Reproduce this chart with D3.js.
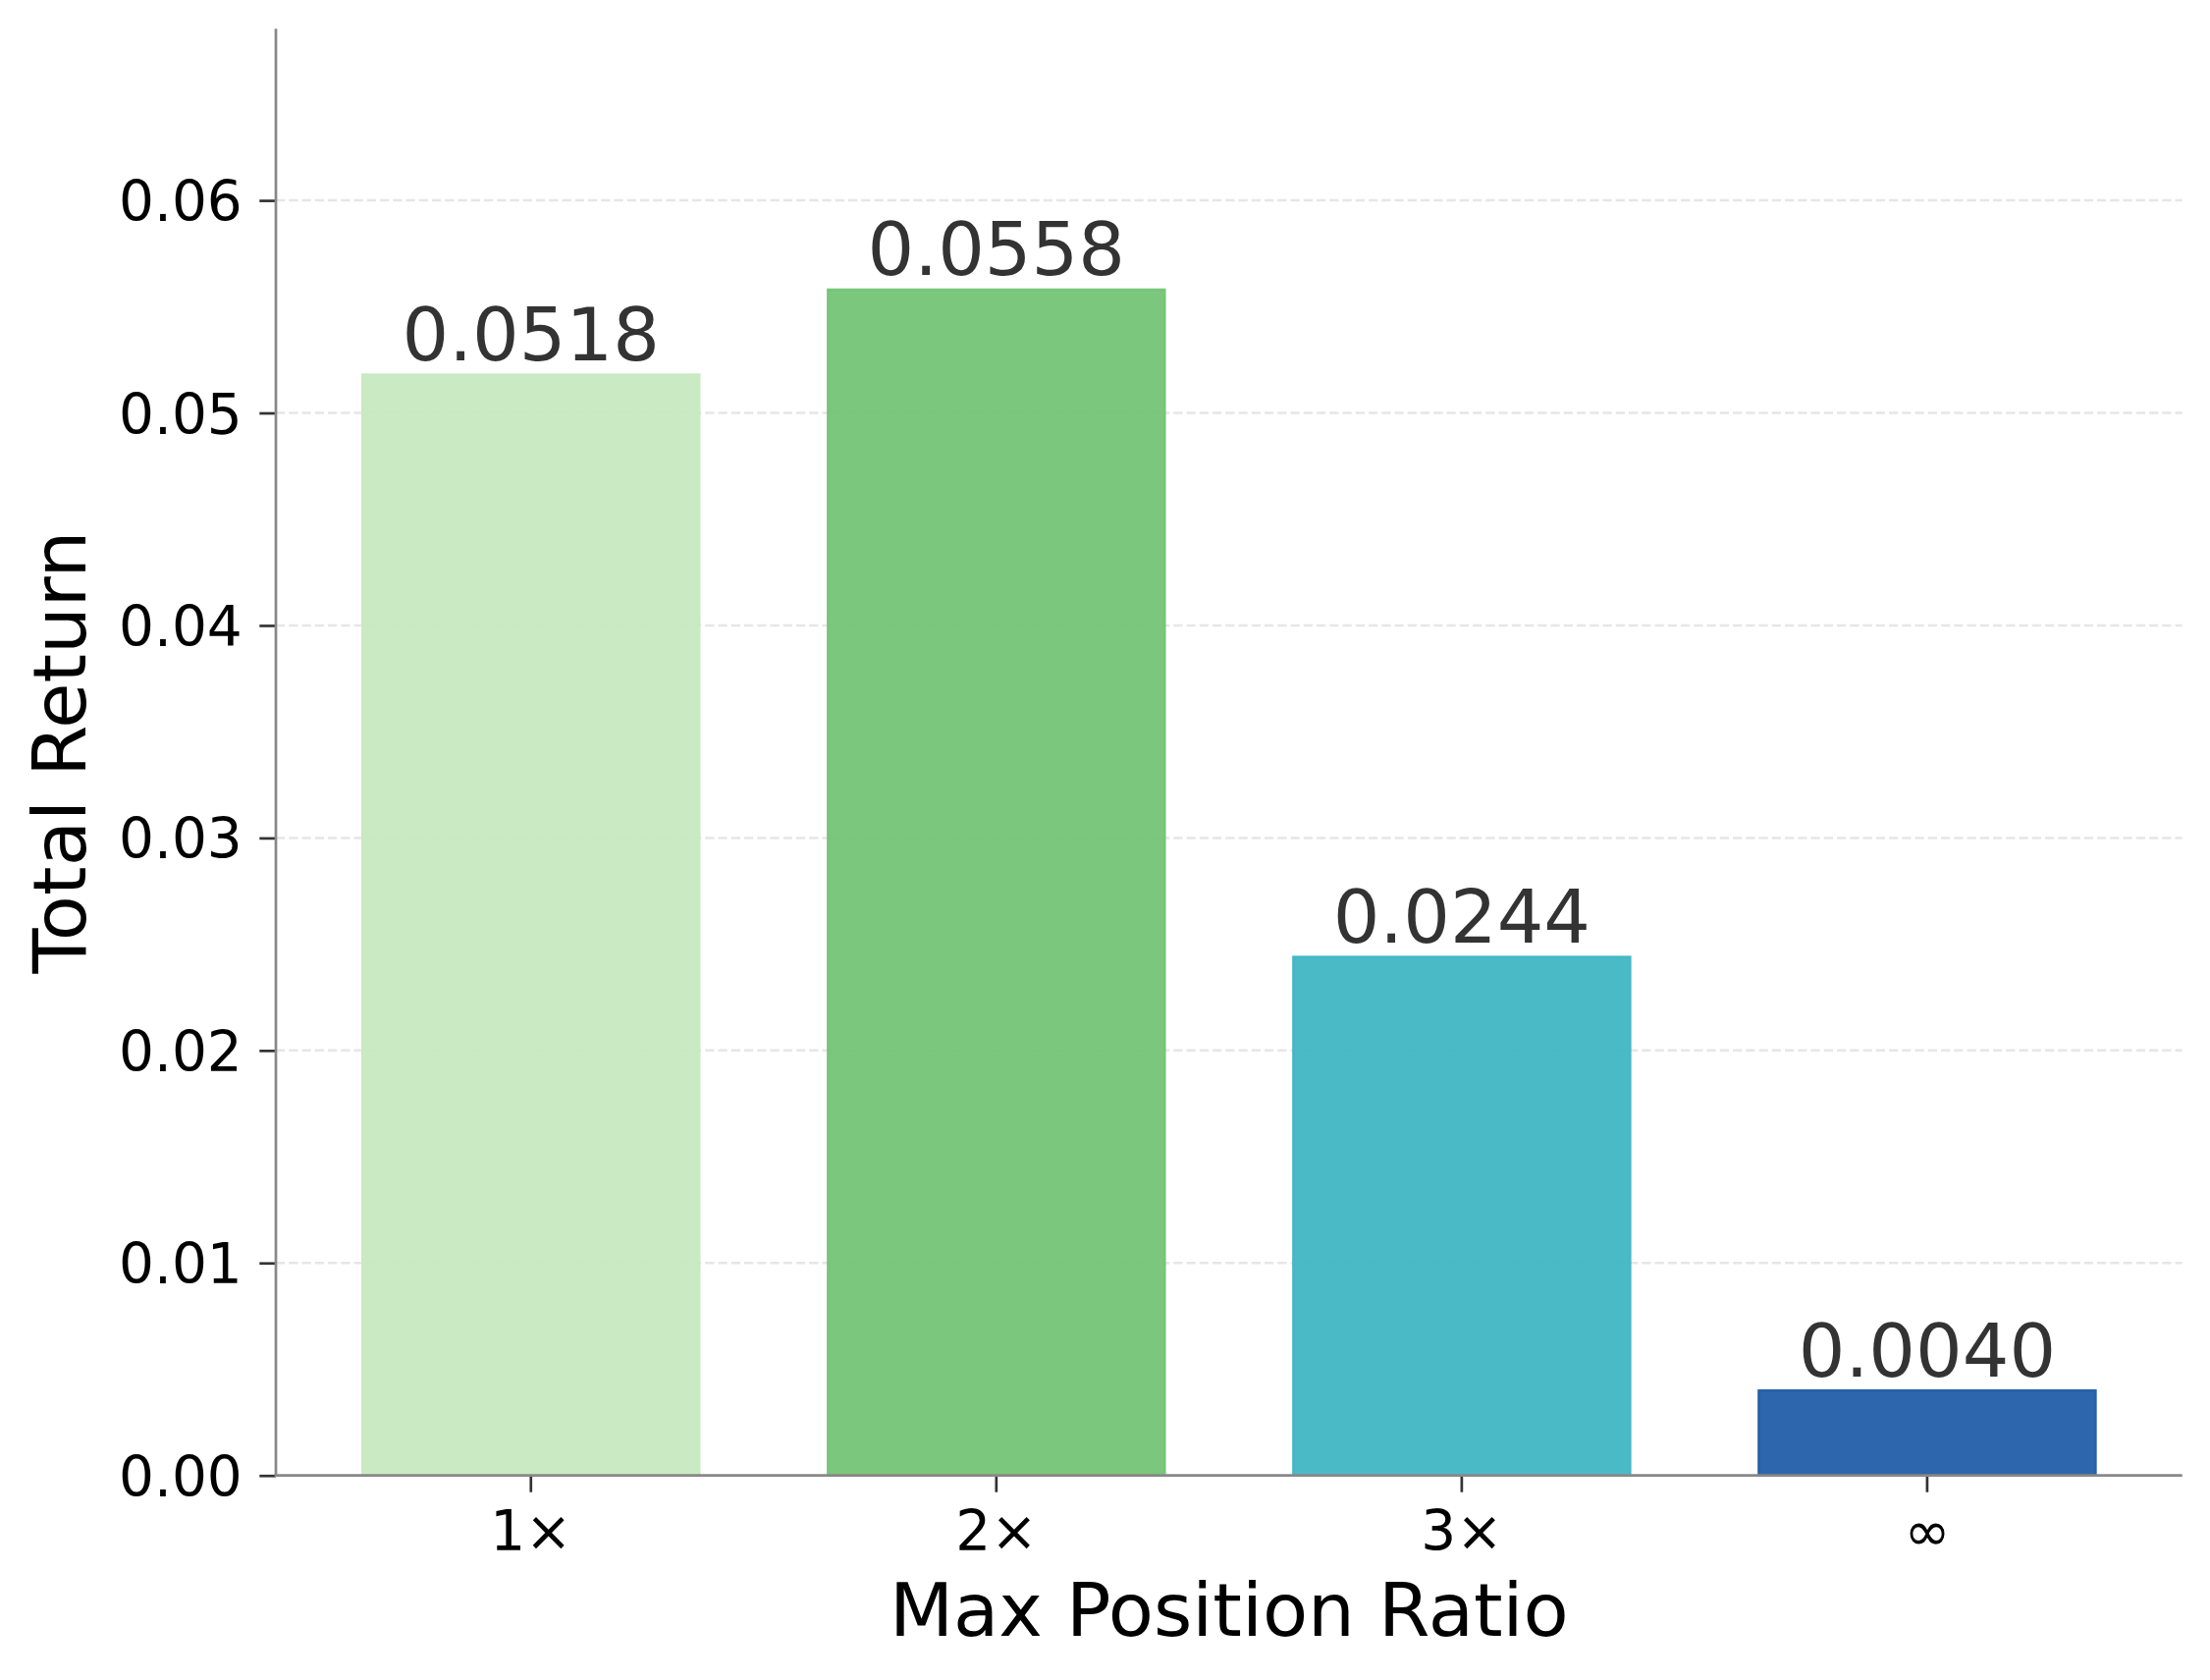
<!DOCTYPE html>
<html>
<head>
<meta charset="utf-8">
<script src="https://cdn.jsdelivr.net/npm/d3@7"></script>
<style>
  html, body { margin: 0; padding: 0; background: #ffffff; }
  svg { display: block; font-family: "DejaVu Sans", sans-serif; }
</style>
</head>
<body>
<svg id="chart" width="2251" height="1711"></svg>
<script>
// ---- data ----
const categories = ["1×", "2×", "3×", "∞"];
const totalReturn = [0.0518, 0.0558, 0.0244, 0.0040];
const valueLabels = ["0.0518", "0.0558", "0.0244", "0.0040"];
const barColors = ["#c7e9c0", "#74c476", "#41b6c4", "#225ea8"];
const yTicks = [0, 0.01, 0.02, 0.03, 0.04, 0.05, 0.06];
const yTickLabels = ["0.00", "0.01", "0.02", "0.03", "0.04", "0.05", "0.06"];
const xTitle = "Max Position Ratio";
const yTitle = "Total Return";

// ---- layout ----
const W = 2251, H = 1711;
const plot = { left: 281, right: 2222.7, top: 29.3, bottom: 1502.7 };

const svg = d3.select("#chart");
svg.append("rect").attr("width", W).attr("height", H).attr("fill", "#ffffff");

const x = d3.scaleBand()
  .domain(categories)
  .range([plot.left, plot.right])
  .paddingInner(0.2764)
  .paddingOuter(0.1862)
  .align(0.5);

const y = d3.scaleLinear()
  .domain([0, d3.max(totalReturn) * 1.22])
  .range([plot.bottom, plot.top]);

// grid
svg.append("g").selectAll("line")
  .data(yTicks.filter(t => t > 0))
  .join("line")
  .attr("x1", plot.left).attr("x2", plot.right)
  .attr("y1", d => y(d)).attr("y2", d => y(d))
  .attr("stroke", "#e6e6e6")
  .attr("stroke-width", 2.5)
  .attr("stroke-dasharray", "9.25,4");

// bars
const data = categories.map((c, i) => ({ c, v: totalReturn[i], col: barColors[i], lab: valueLabels[i] }));
svg.append("g").selectAll("rect")
  .data(data)
  .join("rect")
  .attr("x", d => x(d.c))
  .attr("width", x.bandwidth())
  .attr("y", d => y(d.v))
  .attr("height", d => y(0) - y(d.v))
  .attr("fill", d => d.col)
  .attr("fill-opacity", 0.95)
  .attr("stroke", d => d.col)
  .attr("stroke-opacity", 0.95)
  .attr("stroke-width", 2.5);

// value labels
svg.append("g").selectAll("text")
  .data(data)
  .join("text")
  .attr("x", d => x(d.c) + x.bandwidth() / 2)
  .attr("y", d => y(d.v) - 14.5)
  .attr("text-anchor", "middle")
  .attr("font-size", 75)
  .attr("fill", "#333333")
  .text(d => d.lab);

// y axis
const yAxis = d3.axisLeft(y)
  .tickValues(yTicks)
  .tickFormat((d, i) => yTickLabels[i])
  .tickSize(16.7)
  .tickPadding(17.5);
const gy = svg.append("g").attr("transform", `translate(${plot.left},0)`).call(yAxis);
gy.select(".domain").remove();
gy.selectAll(".tick line").attr("stroke", "#333333").attr("stroke-width", 2.7);
gy.selectAll(".tick text")
  .attr("font-size", 56.5)
  .attr("font-family", "DejaVu Sans")
  .attr("fill", "#000000")
  .attr("dy", null)
  .attr("dominant-baseline", "alphabetic")
  .attr("transform", "translate(0,20.6)");

// x axis
const xAxis = d3.axisBottom(x).tickSize(17).tickPadding(0);
const gx = svg.append("g").attr("transform", `translate(0,${plot.bottom})`).call(xAxis);
gx.select(".domain").remove();
gx.selectAll(".tick line").attr("stroke", "#333333").attr("stroke-width", 2.7);
gx.selectAll(".tick text")
  .attr("font-size", 56.5)
  .attr("font-family", "DejaVu Sans")
  .attr("fill", "#000000")
  .attr("dy", null)
  .attr("y", 1579.3 - plot.bottom);

// spines
svg.append("line")
  .attr("x1", plot.left).attr("x2", plot.left)
  .attr("y1", plot.top).attr("y2", plot.bottom)
  .attr("stroke", "#888888").attr("stroke-width", 2.7);
svg.append("line")
  .attr("x1", plot.left - 1.35).attr("x2", plot.right)
  .attr("y1", plot.bottom).attr("y2", plot.bottom)
  .attr("stroke", "#888888").attr("stroke-width", 2.7);

// axis titles
svg.append("text")
  .attr("x", (plot.left + plot.right) / 2)
  .attr("y", 1666)
  .attr("text-anchor", "middle")
  .attr("font-size", 75.5)
  .attr("fill", "#000000")
  .text(xTitle);

svg.append("text")
  .attr("transform", `translate(87.3,${(plot.top + plot.bottom) / 2}) rotate(-90)`)
  .attr("text-anchor", "middle")
  .attr("font-size", 75.5)
  .attr("fill", "#000000")
  .text(yTitle);
</script>
</body>
</html>
